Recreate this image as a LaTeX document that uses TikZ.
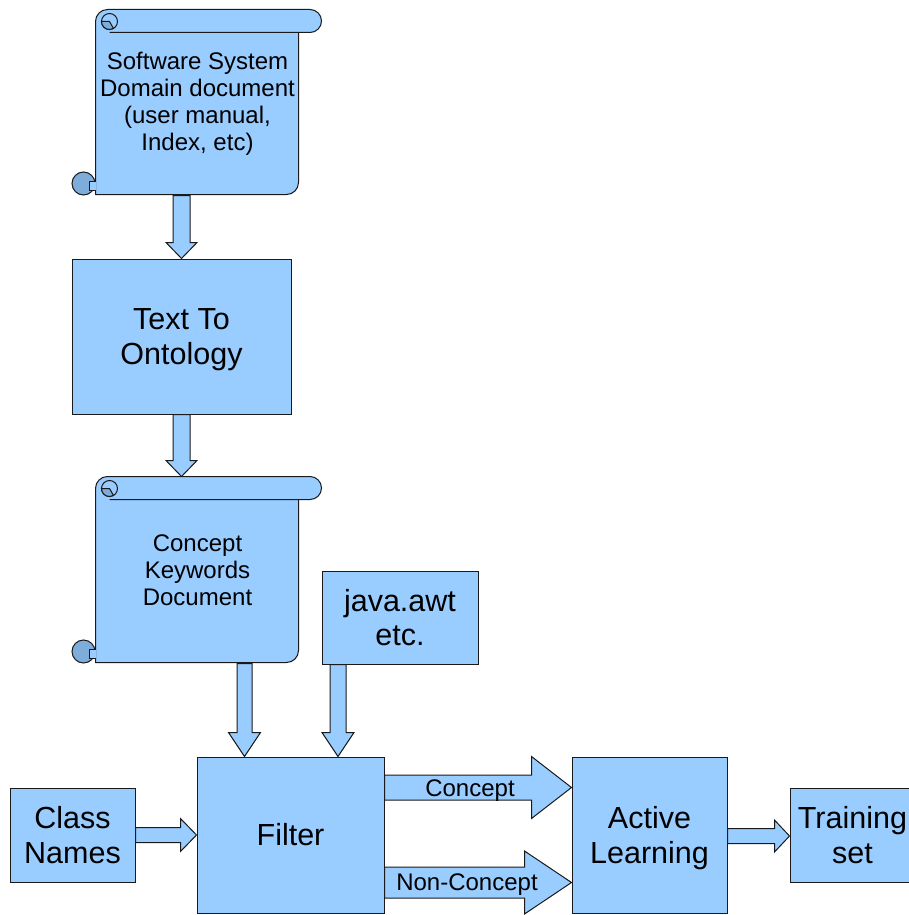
\documentclass[tikz,border=0pt]{standalone}
\usepackage{fontspec}
\setmainfont{Liberation Sans}
\usepackage{tikz}
\usetikzlibrary{calc}
\definecolor{boxblue}{HTML}{99CCFF}
\definecolor{curlblue}{HTML}{7EACDB}
\definecolor{edgegray}{HTML}{1A1A1A}

\tikzset{
  fatdown/.style n args={3}{to path={let \p1=(\tikztostart), \p2=(\tikztotarget) in
    (\x1-#1pt,\y1) -- (\x1-#1pt,\y2+#3pt) -- (\x1-#2pt,\y2+#3pt) -- (\x1,\y2)
    -- (\x1+#2pt,\y2+#3pt) -- (\x1+#1pt,\y2+#3pt) -- (\x1+#1pt,\y1) -- cycle}},
  fatright/.style n args={3}{to path={let \p1=(\tikztostart), \p2=(\tikztotarget) in
    (\x1,\y1+#1pt) -- (\x2-#3pt,\y1+#1pt) -- (\x2-#3pt,\y1+#2pt) -- (\x2,\y1)
    -- (\x2-#3pt,\y1-#2pt) -- (\x2-#3pt,\y1-#1pt) -- (\x1,\y1-#1pt) -- cycle}}
}

% scroll outline round an (invisible) node: name, width, height
\newcommand{\scrollshape}[3]{%
  \begin{scope}[shift={(#1.north west)}]
    % roll at the bottom
    \filldraw[fill=curlblue, draw=edgegray] (-12,#3-11) circle[radius=11.5];
    % sheet
    \filldraw[fill=boxblue, draw=edgegray] (0,12) -- (0,#3) -- (#2-12,#3)
      arc[start angle=90, end angle=0, radius=12] -- (#2,12) -- cycle;
    \filldraw[fill=boxblue, draw=edgegray] (0,#3-13) -- (-6,#3-13) -- (-6,#3-4) -- (0,#3-4);
    % roll at the top
    \fill[boxblue] (0,12) arc[start angle=180, end angle=270, radius=12]
      -- (#2+11.5,0) arc[start angle=270, end angle=450, radius=11.5] -- (0,23) -- cycle;
    \draw[edgegray] (0,23) -- (0,12) arc[start angle=180, end angle=270, radius=12]
      -- (#2+11.5,0) arc[start angle=270, end angle=450, radius=11.5] -- (14,23);
    \filldraw[fill=boxblue, draw=edgegray] (14,12) circle[radius=8];
    \filldraw[fill=curlblue, draw=edgegray] (14,12) -- (6,12) arc[start angle=180, end angle=60, radius=8] -- cycle;
  \end{scope}
}

\begin{document}
\begin{tikzpicture}[x=1pt,y=-1pt,line width=1pt,
  box/.style={rectangle, draw=edgegray, fill=boxblue, inner sep=0pt, align=center,
    font=\fontsize{30.5}{34.5}\selectfont},
  scroll/.style={rectangle, inner sep=0pt, align=center,
    font=\fontsize{24}{27}\selectfont},
  label/.style={font=\fontsize{24}{26}\selectfont, inner sep=0pt, text depth=0pt},
  arrowfill/.style={fill=boxblue, draw=edgegray}]
  \useasboundingbox (0,0) rectangle (909,915);

  % Nodes
  \node[scroll, minimum width=203pt, minimum height=185pt] (doc) at (197.5,102.5) {};
  \scrollshape{doc}{203}{185}
  \node[scroll] at ([yshift=-1pt]doc.center) {Software System\\Domain document\\(user manual,\\Index, etc)};

  \node[box, text depth=0pt, minimum width=219pt, minimum height=155pt] (onto) at (181.5,336.5) {Text To\\Ontology};

  \node[scroll, minimum width=203pt, minimum height=186pt] (keys) at (197.5,570) {};
  \scrollshape{keys}{203}{186}
  \node[scroll] at (keys.center) {Concept\\Keywords\\Document};

  \node[box, minimum width=156pt, minimum height=93pt] (java) at (400,617.5) {java.awt\\etc.};
  \node[box, minimum width=187pt, minimum height=156pt] (filter) at (290.5,835) {Filter};
  \node[box, minimum width=125pt, minimum height=94pt] (cls) at (72.5,835) {Class\\Names};
  \node[box, text depth=0pt, minimum width=155pt, minimum height=156pt] (active) at (649.5,835) {Active\\Learning};
  \node[box, minimum width=125pt, minimum height=94pt] (train) at (852.5,835) {Training\\set};

  % Connectors
  \draw[arrowfill, fatdown={8.5}{15.5}{16}] (doc.south -| onto.north) to (onto.north);
  \draw[arrowfill, fatdown={8.5}{15.5}{16}] (onto.south) to (keys.north);
  \draw[arrowfill, fatdown={7.5}{16}{24}] ([xshift=47pt]keys.south) to (filter.north);
  \draw[arrowfill, fatdown={8}{16}{24}] ([xshift=-62pt]java.south) to (filter.north);
  \draw[arrowfill, fatright={7.5}{16.5}{16}] (cls.east) to (filter.west);
  \draw[arrowfill, fatright={12.5}{31}{40}] ([yshift=47.5pt]filter.east) to (active.west);
  \draw[arrowfill, fatright={15.5}{31.5}{47}] ([yshift=-47.5pt]filter.east) to (active.west);
  \draw[arrowfill, fatright={7.5}{16}{15}] ([yshift=-1pt]active.east) to (train.west);

  \node[label] (lblc) at (470,788) {Concept};
  \node[label] (lbln) at (467,882) {Non-Concept};
\end{tikzpicture}
\end{document}
